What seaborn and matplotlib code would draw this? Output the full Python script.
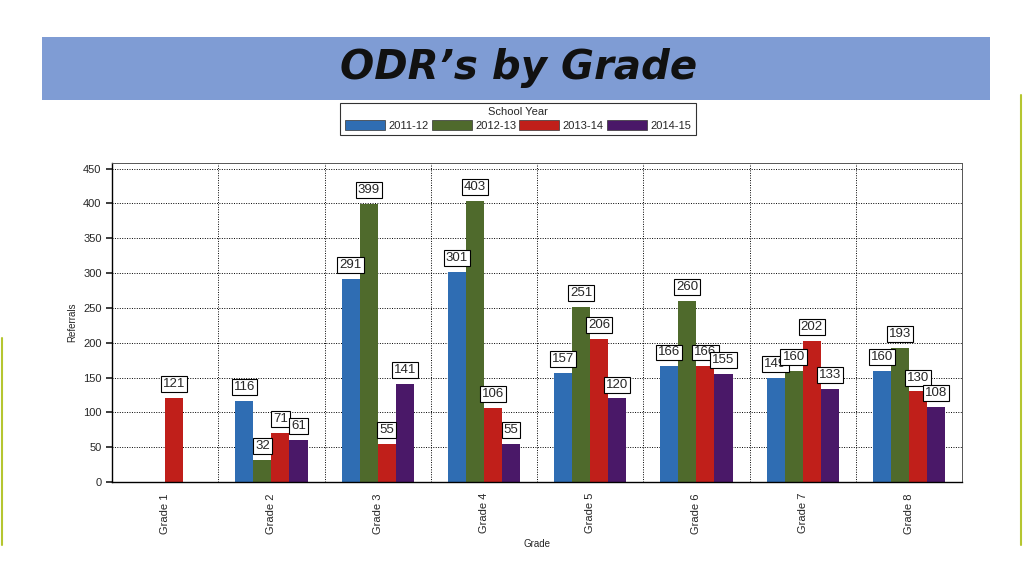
import matplotlib
matplotlib.use("Agg")
import matplotlib.pyplot as plt
import matplotlib.patches as mpatches
import numpy as np
import pandas as pd
import seaborn as sns

grades = ["Grade 1", "Grade 2", "Grade 3", "Grade 4", "Grade 5", "Grade 6", "Grade 7", "Grade 8"]
years = ["2011-12", "2012-13", "2013-14", "2014-15"]
y2011 = [np.nan, 116, 291, 301, 157, 166, 149, 160]
y2012 = [np.nan, 32, 399, 403, 251, 260, 160, 193]
y2013 = [121, 71, 55, 106, 206, 166, 202, 130]
y2014 = [np.nan, 61, 141, 55, 120, 155, 133, 108]
colors = ["#2f6db3", "#4f6a2c", "#c01f1a", "#4a1868"]

rows = []
for yr, vals in zip(years, [y2011, y2012, y2013, y2014]):
    for g, v in zip(grades, vals):
        rows.append({"Grade": g, "School Year": yr, "Referrals": v})
df = pd.DataFrame(rows)

sns.set_theme(style="white")
plt.rcParams['font.family'] = ['Liberation Sans', 'DejaVu Sans']

fig = plt.figure(figsize=(10.24, 5.76), dpi=100)
fig.patch.set_facecolor("white")

# Title banner
banner = mpatches.Rectangle((42/1024, 1-100/576), (990-42)/1024, 63/576,
                            transform=fig.transFigure, facecolor="#7f9cd4",
                            edgecolor="none", zorder=0)
fig.patches.append(banner)
fig.text(519/1024, 1-68/576, "ODR\u2019s by Grade", ha="center", va="center",
         fontsize=29, fontweight="bold", fontstyle="italic", color="#111111",
         family=["DejaVu Sans"])

# side accent lines
fig.add_artist(plt.Line2D([1021/1024, 1021/1024], [1-545/576, 1-95/576],
                          transform=fig.transFigure, color="#b5c630", lw=1.5))
fig.add_artist(plt.Line2D([1.5/1024, 1.5/1024], [1-545/576, 1-338/576],
                          transform=fig.transFigure, color="#b5c630", lw=1.5))

ax = fig.add_axes([112/1024, 1-482/576, (962-112)/1024, (482-163)/576])
sns.barplot(data=df, x="Grade", y="Referrals", hue="School Year",
            hue_order=years, order=grades, palette=colors, width=0.68,
            saturation=1, ax=ax, legend=False, errorbar=None,
            edgecolor="none")

ax.set_ylim(0, 458)
ax.set_xlim(-0.5, 7.5)
ax.set_yticks(range(0, 451, 50))
ax.set_xticks(range(len(grades)))
ax.set_xticklabels(grades, rotation=90, fontsize=8)
ax.tick_params(axis="y", labelsize=8, length=4, direction="out", left=True)
ax.tick_params(axis="x", length=0, pad=8)
ax.set_xticks(np.arange(0.5, 7.5, 1), minor=True)
ax.grid(axis="y", which="major", linestyle=(0, (1, 1.5)), color="black", lw=0.7)
ax.grid(axis="x", which="minor", linestyle=(0, (1, 1.5)), color="black", lw=0.7)
ax.set_axisbelow(True)
for s in ["top", "right"]:
    ax.spines[s].set_visible(True)
    ax.spines[s].set_linewidth(0.7)
    ax.spines[s].set_color("#555555")
for s in ["left", "bottom"]:
    ax.spines[s].set_color("black")
    ax.spines[s].set_linewidth(1.0)
ax.set_xlabel("Grade", fontsize=7)
ax.set_ylabel("Referrals", fontsize=7)

for p in ax.patches:
    h = p.get_height()
    if h is None or np.isnan(h) or h == 0:
        continue
    ax.annotate(f"{int(round(h))}", (p.get_x() + p.get_width() / 2, h),
                xytext=(0, 10), textcoords="offset points", ha="center",
                va="center", fontsize=9.5,
                bbox=dict(boxstyle="square,pad=0.15", fc="white", ec="black", lw=0.8))

handles = [mpatches.Patch(facecolor=c, edgecolor="#333333", lw=0.5) for c in colors]
leg = fig.legend(handles, years, title="School Year", ncol=4,
                 loc="center", bbox_to_anchor=(518/1024, 1-119/576),
                 fontsize=8, title_fontsize=8, frameon=True, fancybox=False,
                 edgecolor="black", handlelength=3.6, handleheight=1.0,
                 columnspacing=0.3, handletextpad=0.3, borderpad=0.4,
                 labelspacing=0.25)
leg.get_frame().set_linewidth(0.8)

fig.savefig("out.png", dpi=100)
